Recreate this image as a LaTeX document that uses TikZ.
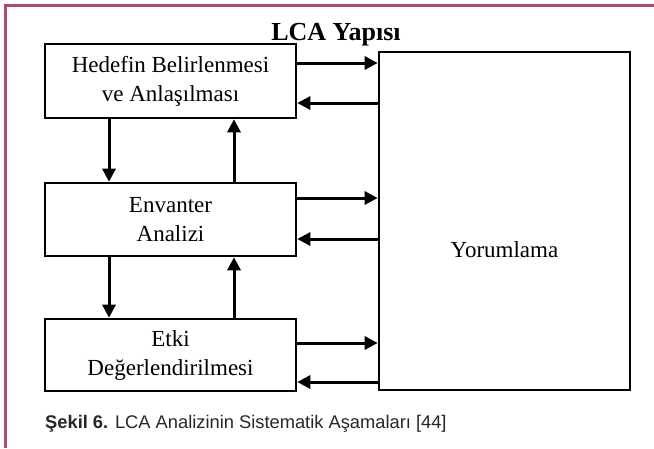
\documentclass[tikz,border=0pt]{standalone}
\usepackage{fontspec}
\setmainfont{Liberation Serif}
\newfontfamily\capfont{Liberation Sans}
\usetikzlibrary{arrows.meta}
\definecolor{framec}{HTML}{B04878}
\definecolor{capc}{HTML}{262626}
\tikzset{
  stagebox/.style={draw=black, line width=2.6pt, minimum width=251pt, inner sep=0pt,
    align=center, font=\fontsize{23}{29}\selectfont},
  flow/.style={line width=3pt, -{Triangle[length=13pt,width=13pt]}},
}
\begin{document}
\begin{tikzpicture}[x=1pt,y=-1pt]
\useasboundingbox (0,0) rectangle (654,448);
% frame
\draw[framec, line width=3pt] (5.5,448) -- (5.5,5.5) -- (654,5.5);
% title
\node[anchor=base, font=\fontsize{26}{30}\selectfont\bfseries] (title) at (336,40) {LCA Yapısı};
% boxes
\node[stagebox, minimum height=74pt] (b1) at (170.5,81) {Hedefin Belirlenmesi\\ve Anlaşılması};
\node[stagebox, minimum height=73pt] (b2) at (170.5,219.5) {Envanter\\Analizi};
\node[stagebox, minimum height=72pt] (b3) at (170.5,355) {Etki\\Değerlendirilmesi};
\node[stagebox, minimum height=338pt] (yor) at (504.5,221) {};
\node[font=\fontsize{23}{29}\selectfont, anchor=base] (yortext) at (504.5,257) {Yorumlama};
% horizontal arrows
\draw[flow] (b1.east |- 0,63) -- (yor.west |- 0,63);
\draw[flow] ([xshift=2pt]yor.west |- 0,103) -- (b1.east |- 0,103);
\draw[flow] (b2.east |- 0,198) -- (yor.west |- 0,198);
\draw[flow] ([xshift=2pt]yor.west |- 0,239) -- (b2.east |- 0,239);
\draw[flow] (b3.east |- 0,343) -- (yor.west |- 0,343);
\draw[flow] ([xshift=2pt]yor.west |- 0,382) -- (b3.east |- 0,382);
% vertical arrows
\draw[flow] (b1.south -| 109,0) -- (b2.north -| 109,0);
\draw[flow] (b2.north -| 234,0) -- (b1.south -| 234,0);
\draw[flow] (b2.south -| 109,0) -- (b3.north -| 109,0);
\draw[flow] (b3.north -| 234,0) -- (b2.south -| 234,0);
% caption
\node[anchor=base west, inner sep=0pt, text=capc, font=\capfont\fontsize{18.3}{22}\selectfont] (cap) at (45,428)
  {\textbf{Şekil 6.} LCA Analizinin Sistematik Aşamaları [44]};
\end{tikzpicture}
\end{document}
